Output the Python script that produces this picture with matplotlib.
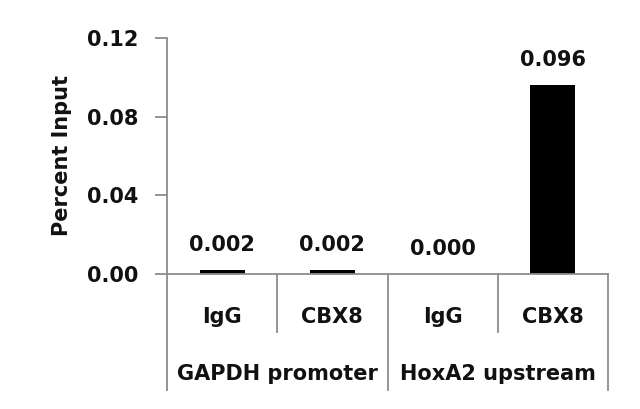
import matplotlib
matplotlib.use("Agg")
import matplotlib.pyplot as plt
from matplotlib.lines import Line2D

categories = ["IgG", "CBX8", "IgG", "CBX8"]
groups = ["GAPDH promoter", "HoxA2 upstream"]
values = [0.002, 0.002, 0.000, 0.096]
labels = ["0.002", "0.002", "0.000", "0.096"]
yticks = [0.00, 0.04, 0.08, 0.12]
ytick_labels = ["0.00", "0.04", "0.08", "0.12"]

plt.rcParams['font.family'] = ['DejaVu Sans']
plt.rcParams['font.weight'] = 'bold'
plt.rcParams['text.color'] = '#111111'
plt.rcParams['ytick.labelcolor'] = '#111111'

fig = plt.figure(figsize=(6.4, 4.09), dpi=100)
W, H = 640, 409
x0, x1, ytop, ybot = 167, 608, 38, 274
ax = fig.add_axes([x0 / W, 1 - ybot / H, (x1 - x0) / W, (ybot - ytop) / H])

FS = 15
xs = list(range(len(categories)))
ax.bar(xs, values, width=0.41, color="black")
ax.set_xlim(-0.5, len(categories) - 0.5)
ax.set_ylim(0, 0.12)
ax.set_yticks(yticks)
ax.set_yticklabels(ytick_labels, fontsize=FS, fontweight="bold")
ax.set_xticks([])
gray = "#8c8c8c"
for s in ["top", "right"]:
    ax.spines[s].set_visible(False)
for s in ["left", "bottom"]:
    ax.spines[s].set_color(gray)
    ax.spines[s].set_linewidth(1.3)
ax.tick_params(axis="y", direction="out", length=8.5, width=1.3, color=gray, pad=12)
fig.text(62 / W, 1 - 155 / H, "Percent Input", rotation=90, ha="center",
         va="center", fontsize=15, fontweight="bold")

for x, v, lab in zip(xs, values, labels):
    ax.annotate(lab, (x, v), xytext=(0, 14), textcoords="offset points",
                ha="center", va="baseline", fontsize=FS, fontweight="bold")

ah = ybot - ytop
def yfrac(py):
    return (ybot - py) / ah

n = len(categories)
for i in range(n + 1):
    xf = i / n
    yb = yfrac(390) if i % 2 == 0 else yfrac(332)
    ax.add_line(Line2D([xf, xf], [0, yb], transform=ax.transAxes, color=gray,
                       lw=1.3, clip_on=False))
for i, c in enumerate(categories):
    ax.text((i + 0.5) / n, yfrac(323), c, transform=ax.transAxes, ha="center",
            va="baseline", fontsize=FS, fontweight="bold")
for g, name in enumerate(groups):
    ax.text((2 * g + 1) / n, yfrac(380), name, transform=ax.transAxes,
            ha="center", va="baseline", fontsize=FS, fontweight="bold")

fig.savefig("out.png", dpi=100)
